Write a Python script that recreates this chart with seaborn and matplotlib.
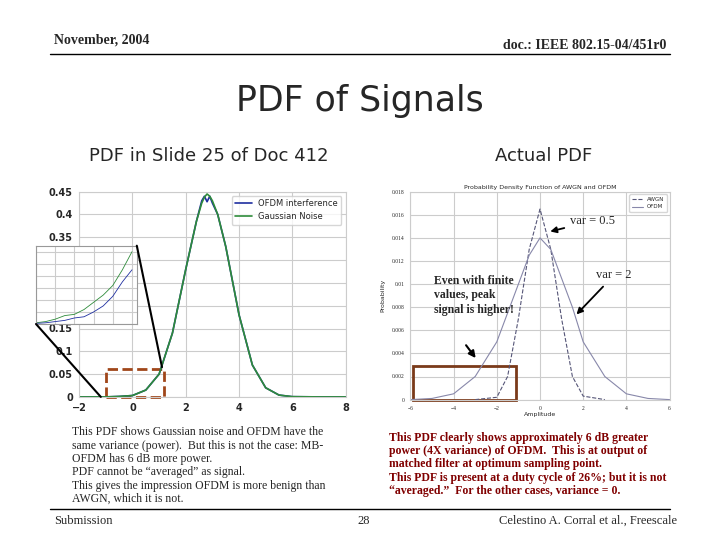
import numpy as np
import matplotlib
matplotlib.use('Agg')
import matplotlib.pyplot as plt
import seaborn as sns
from matplotlib.patches import Rectangle
from matplotlib.lines import Line2D

sns.set_style('whitegrid')
plt.rcParams['font.family'] = ['Liberation Serif', 'DejaVu Sans']

# left chart: PDF in slide 25
left_x = [-2, -1, -0.5, 0, 0.5, 1, 1.5, 2, 2.4, 2.6, 2.7, 2.8, 2.9, 3.0, 3.2, 3.5, 4, 4.5, 5, 5.5, 6, 7, 8]
gauss_y = [0, 0, 0.001, 0.003, 0.015, 0.05, 0.14, 0.28, 0.385, 0.425, 0.438, 0.445, 0.44, 0.43, 0.40, 0.33, 0.18, 0.07, 0.02, 0.004, 0.0005, 0, 0]
ofdm_y = [0, 0, 0.001, 0.003, 0.015, 0.05, 0.14, 0.28, 0.385, 0.43, 0.44, 0.428, 0.44, 0.425, 0.40, 0.33, 0.18, 0.07, 0.02, 0.004, 0.0005, 0, 0]
inset_x = [0, 1, 2, 3, 4, 5, 6, 7, 8, 9, 10]
inset_gauss = [0.1, 0.2, 0.4, 0.7, 0.8, 1.2, 1.8, 2.4, 3.2, 4.5, 6.0]
inset_ofdm = [0.05, 0.1, 0.2, 0.3, 0.5, 0.6, 1.0, 1.5, 2.3, 3.5, 4.5]

# right chart: actual PDF
r_x05 = [-3, -2, -1.5, -1, -0.5, 0, 0.5, 1, 1.5, 2, 3]
r_y05 = [0, 0.0002, 0.002, 0.007, 0.013, 0.0165, 0.013, 0.007, 0.002, 0.0003, 0]
r_x2 = [-6, -5, -4, -3, -2, -1, -0.5, 0, 0.5, 1, 1.5, 2, 3, 4, 5, 6]
r_y2 = [0, 0.0001, 0.0005, 0.002, 0.005, 0.010, 0.0125, 0.014, 0.013, 0.0105, 0.008, 0.005, 0.002, 0.0005, 0.0001, 0]

fig = plt.figure(figsize=(7.2, 5.4), dpi=100)

fig.text(0.075, 0.92, 'November, 2004', fontsize=10, weight='bold')
fig.text(0.925, 0.91, 'doc.: IEEE 802.15-04/451r0', fontsize=10, weight='bold', ha='right')
fig.add_artist(Line2D([0.07, 0.93], [0.9, 0.9], color='black', lw=1))
fig.text(0.5, 0.795, 'PDF of Signals', fontsize=25, ha='center', family='DejaVu Sans')
fig.text(0.29, 0.702, 'PDF in Slide 25 of Doc 412', fontsize=13, ha='center', family='DejaVu Sans')
fig.text(0.755, 0.702, 'Actual PDF', fontsize=13, ha='center', family='DejaVu Sans')

ax = fig.add_axes([0.11, 0.265, 0.37, 0.38])
sns.lineplot(x=left_x, y=ofdm_y, ax=ax, color='#1f2fa0', lw=1.2, label='OFDM interference')
sns.lineplot(x=left_x, y=gauss_y, ax=ax, color='#2e8b3a', lw=1.2, label='Gaussian Noise')
ax.set_xlim(-2, 8)
ax.set_ylim(0, 0.45)
ax.set_xticks([-2, 0, 2, 4, 6, 8])
ax.set_yticks([0, 0.05, 0.1, 0.15, 0.2, 0.25, 0.3, 0.35, 0.4, 0.45])
ax.set_yticklabels(['0', '0.05', '0.1', '0.15', '0.2', '0.25', '0.3', '0.35', '0.4', '0.45'])
ax.tick_params(labelsize=7, pad=1)
for t in ax.get_xticklabels() + ax.get_yticklabels():
    t.set_family('DejaVu Sans')
    t.set_weight('bold')
ax.legend(loc='upper right', fontsize=6, frameon=True, prop={'family': 'DejaVu Sans', 'size': 6})
ax.add_patch(Rectangle((-1, 0), 2.2, 0.062, fill=False, ls='--', lw=2, ec='#a0461a', clip_on=False))

ins = fig.add_axes([0.05, 0.4, 0.14, 0.145])
sns.lineplot(x=inset_x, y=inset_gauss, ax=ins, color='#2e8b3a', lw=0.6)
sns.lineplot(x=inset_x, y=inset_ofdm, ax=ins, color='#1f2fa0', lw=0.6)
ins.set_xlim(0, 10.5)
ins.set_ylim(0, 6.5)
ins.tick_params(labelsize=3, pad=0)
ins.set_xticklabels([])
ins.set_yticklabels([])
for s in ins.spines.values():
    s.set_color('#999999')
fig.add_artist(Line2D([0.05, 0.14], [0.4, 0.265], color='black', lw=1.5))
fig.add_artist(Line2D([0.19, 0.225], [0.545, 0.32], color='black', lw=1.5))

ax2 = fig.add_axes([0.57, 0.26, 0.36, 0.385])
sns.lineplot(x=r_x05, y=r_y05, ax=ax2, color='#555577', lw=0.8, ls='--', label='AWGN')
sns.lineplot(x=r_x2, y=r_y2, ax=ax2, color='#8888aa', lw=0.8, label='OFDM')
ax2.set_xlim(-6, 6)
ax2.set_ylim(0, 0.018)
ax2.set_xticks([-6, -4, -2, 0, 2, 4, 6])
ax2.set_yticks(np.arange(0, 0.0181, 0.002))
ax2.set_yticklabels(['0', '0.002', '0.004', '0.006', '0.008', '0.01', '0.012', '0.014', '0.016', '0.018'])
ax2.tick_params(labelsize=4, pad=1)
ax2.set_title('Probability Density Function of AWGN and OFDM', fontsize=4.5, pad=2, family='DejaVu Sans')
ax2.set_ylabel('Probability', fontsize=4.5, family='DejaVu Sans')
ax2.set_xlabel('Amplitude', fontsize=4.5, family='DejaVu Sans', labelpad=1)
ax2.legend(loc='upper right', fontsize=4, prop={'family': 'DejaVu Sans', 'size': 4})
ax2.add_patch(Rectangle((-5.9, 0), 4.8, 0.0029, fill=False, lw=2, ec='#7a3a1a', clip_on=False))
ax2.annotate('var = 0.5', xy=(0.35, 0.0145), xytext=(1.4, 0.0152), fontsize=9,
             arrowprops=dict(arrowstyle='-|>', color='black', lw=1.3))
ax2.annotate('var = 2', xy=(1.6, 0.0072), xytext=(2.6, 0.0105), fontsize=9,
             arrowprops=dict(arrowstyle='-|>', color='black', lw=1.3))
ax2.text(-4.9, 0.0075, 'Even with finite\nvalues, peak\nsignal is higher!', fontsize=8.5, weight='bold', linespacing=1.3)
ax2.annotate('', xy=(-2.9, 0.0034), xytext=(-3.5, 0.0049),
             arrowprops=dict(arrowstyle='-|>', color='black', lw=1.5))

left_txt = ('This PDF shows Gaussian noise and OFDM have the\nsame variance (power).  But this is not the case: MB-\n'
            'OFDM has 6 dB more power.\nPDF cannot be \u201caveraged\u201d as signal.\n'
            'This gives the impression OFDM is more benign than\nAWGN, which it is not.')
fig.text(0.1, 0.07, left_txt, fontsize=8.5, linespacing=1.15)
right_txt = ('This PDF clearly shows approximately 6 dB greater\npower (4X variance) of OFDM.  This is at output of\n'
             'matched filter at optimum sampling point.\nThis PDF is present at a duty cycle of 26%; but it is not\n'
             '\u201caveraged.\u201d  For the other cases, variance = 0.')
fig.text(0.54, 0.085, right_txt, fontsize=8.5, weight='bold', linespacing=1.15, color='#800000')

fig.add_artist(Line2D([0.07, 0.93], [0.058, 0.058], color='black', lw=1))
fig.text(0.075, 0.03, 'Submission', fontsize=9)
fig.text(0.505, 0.03, '28', fontsize=9, ha='center')
fig.text(0.94, 0.03, 'Celestino A. Corral et al., Freescale', fontsize=9, ha='right')

fig.savefig('out.png', dpi=100)
